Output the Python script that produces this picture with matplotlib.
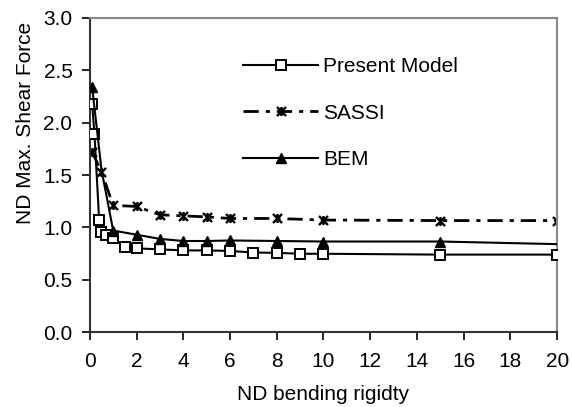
import matplotlib
matplotlib.use('agg')
import matplotlib.pyplot as plt
import matplotlib.ticker as mticker
from matplotlib.path import Path

plt.rcParams['font.family'] = ['Liberation Sans', 'DejaVu Sans']

# ---- data
pm_x = [0.1, 0.2, 0.4, 0.5, 0.7, 1, 1.5, 2, 3, 4, 5, 6, 7, 8, 9, 10, 15, 20]
pm_y = [2.18, 1.89, 1.07, 0.96, 0.93, 0.90, 0.81, 0.80, 0.79, 0.78, 0.78,
        0.775, 0.76, 0.757, 0.748, 0.748, 0.74, 0.74]

sassi_x = [0.1, 0.5, 1, 2, 3, 4, 5, 6, 8, 10, 15, 20]
sassi_y = [1.72, 1.53, 1.21, 1.20, 1.12, 1.11, 1.10, 1.085, 1.085, 1.07, 1.065, 1.065]

bem_x = [0.1, 0.5, 1, 2, 3, 4, 5, 6, 8, 10, 15, 20]
bem_y = [2.34, 1.55, 0.97, 0.93, 0.89, 0.87, 0.87, 0.875, 0.87, 0.865, 0.865, 0.84]

labels = ['Present Model', 'SASSI', 'BEM']
x_ticks = list(range(0, 21, 2))
y_ticks = [0.0, 0.5, 1.0, 1.5, 2.0, 2.5, 3.0]

# excel-like star marker: an x with a vertical bar
star = Path([(0, -1), (0, 1), (-1, -1), (1, 1), (-1, 1), (1, -1)],
            [Path.MOVETO, Path.LINETO, Path.MOVETO, Path.LINETO, Path.MOVETO, Path.LINETO])

fig = plt.figure(figsize=(5.72, 4.07), dpi=100)
ax = fig.add_axes([0.157, 0.184, 0.817, 0.772])

ax.plot(pm_x, pm_y, '-', color='k', lw=1.5, marker='s', ms=6.8,
        mfc='white', mec='k', mew=1.4, label=labels[0], zorder=3)
ax.plot(sassi_x, sassi_y, color='k', lw=2.0, linestyle=(0, (5.5, 2.5, 1.5, 2.5)),
        marker=star, ms=6.5, mec='k', mew=1.7, label=labels[1], zorder=2)
ax.plot(bem_x, bem_y, '-', color='k', lw=1.5, marker='^', ms=6.5, mfc='k', mec='k',
        markevery=[0, 2, 3, 4, 5, 6, 7, 8, 9, 10], label=labels[2], zorder=4)

ax.set_xlim(0, 20)
ax.set_ylim(0, 3.0)
ax.set_xticks(x_ticks)
ax.set_yticks(y_ticks)
ax.yaxis.set_major_formatter(mticker.FormatStrFormatter('%.1f'))
ax.tick_params(labelsize=15, length=6, width=1.2, direction='out')
ax.tick_params(axis='x', pad=8.5)
ax.tick_params(axis='y', pad=6.5)

for s in ['left', 'bottom']:
    ax.spines[s].set_color('#333333')
    ax.spines[s].set_linewidth(1.5)
for s in ['top', 'right']:
    ax.spines[s].set_color('#888888')
    ax.spines[s].set_linewidth(1.5)

ax.set_xlabel('ND bending rigidty', fontsize=15, labelpad=10)
ax.set_ylabel('ND Max. Shear Force', fontsize=15)
ax.yaxis.set_label_coords(-0.118, 0.666)

leg = ax.legend(loc='upper left', bbox_to_anchor=(0.31, 0.902), frameon=False,
                fontsize=15, handlelength=3.6, handletextpad=0.25, labelspacing=1.32,
                borderaxespad=0)

fig.savefig('out.png', dpi=100)
